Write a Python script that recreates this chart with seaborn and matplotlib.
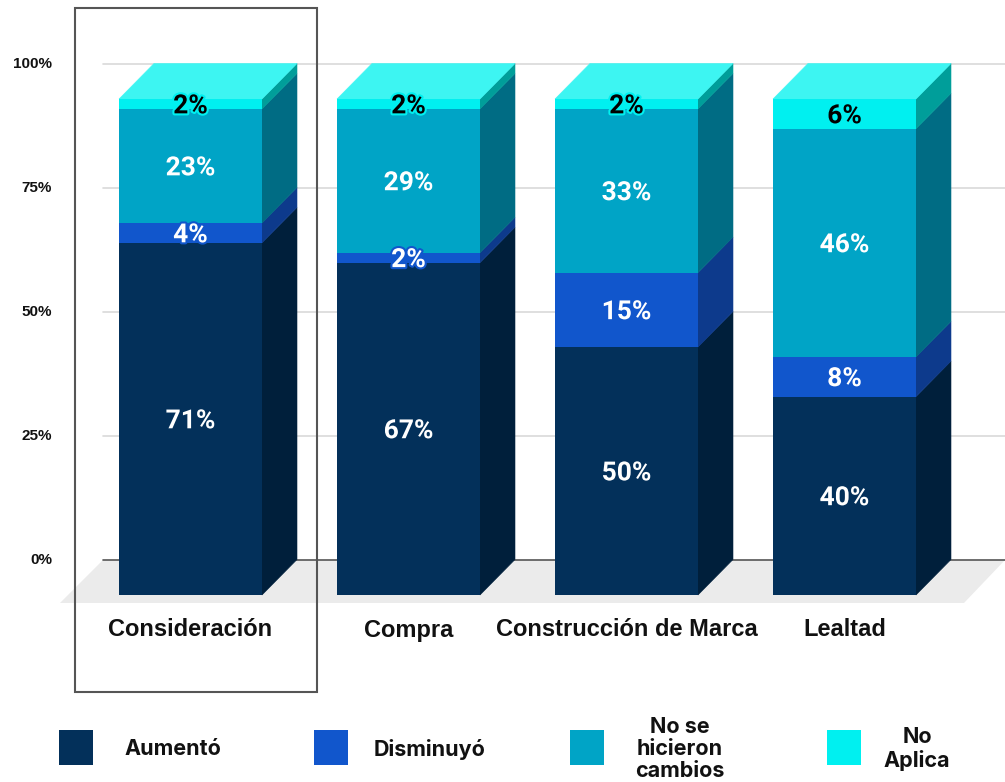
import matplotlib
matplotlib.use('Agg')
import matplotlib.pyplot as plt
import matplotlib.patheffects as pe
from matplotlib.patches import Rectangle
import numpy as np
import pandas as pd
import seaborn as sns

categories = ['Consideración', 'Compra', 'Construcción de Marca', 'Lealtad']
series_names = ['Aumentó', 'Disminuyó', 'No se\nhicieron\ncambios', 'No\nAplica']
aumento = [71, 67, 50, 40]
disminuyo = [4, 2, 15, 8]
sin_cambios = [23, 29, 33, 46]
no_aplica = [2, 2, 2, 6]
y_ticks = [0, 25, 50, 75, 100]
y_tick_labels = ['0%', '25%', '50%', '75%', '100%']

front_colors = ['#03305a', '#1156cc', '#00a4c6', '#00f0f0']
side_colors = ['#001f3b', '#0d3a8c', '#006c84', '#009e9a']
top_color = '#3df5f2'
label_colors = ['white', 'white', 'white', 'black']

# reference pixel geometry -> data units
PX_X, PX_Y = 218.0, 4.96      # px per category, px per percent
X0, Y0 = 190.5, 595.0          # px of category 0 centre / 0% on the front plane
BAR_W = 143 / PX_X
DX, DY = 35 / PX_X, 35.5 / PX_Y  # 3d depth offset
VAL_FS = 19
# half the cap height of the value labels, in percent units (to centre digits)
CAP_HALF = VAL_FS * 100 / 72 * 0.711 / 2 / PX_Y


def px_x(px):
    return (px - X0) / PX_X


def px_y(py):
    return (Y0 - py) / PX_Y


sns.set_style('white')
fig = plt.figure(figsize=(10.05, 7.82), dpi=100)
ax = fig.add_axes([0, 0, 1, 1])

series = [aumento, disminuyo, sin_cambios, no_aplica]
cum = np.cumsum(np.array(series), axis=0)
bottoms = np.vstack([np.zeros(len(categories)), cum[:-1]])

# floor
ax.fill([px_x(60), px_x(964), px_x(1005), px_x(103)],
        [px_y(603), px_y(603), px_y(560), px_y(560)], color='#ebebeb', lw=0, zorder=0)

# gridlines on the back plane
for v, lab in zip(y_ticks, y_tick_labels):
    ax.plot([px_x(103), px_x(1005)], [v + DY, v + DY],
            color='#555555' if v == 0 else '#d9d9d9', lw=1.2, zorder=1)
    ax.text(px_x(52), v + DY, lab, ha='right', va='center',
            fontsize=11, fontweight='bold', family='Liberation Sans', color='#111111')

# front faces: stacked by overlaying cumulative totals, largest first
df = pd.DataFrame({'cat': categories})
for j in range(len(series) - 1, -1, -1):
    df['val'] = cum[j]
    sns.barplot(data=df, x='cat', y='val', color=front_colors[j], saturation=1,
                width=BAR_W, errorbar=None, ax=ax, zorder=3, edgecolor='none', linewidth=0)

# side and top faces
for i in range(len(categories)):
    xl, xr = i - BAR_W / 2, i + BAR_W / 2
    for j in range(len(series)):
        y0, y1 = bottoms[j][i], cum[j][i]
        ax.fill([xr, xr + DX, xr + DX, xr], [y0, y0 + DY, y1 + DY, y1],
                color=side_colors[j], lw=0.4, ec=side_colors[j], zorder=2.9)
    top = cum[-1][i]
    ax.fill([xl, xl + DX, xr + DX, xr], [top, top + DY, top + DY, top],
            color=top_color, lw=0.4, ec=top_color, zorder=2.9)

# value labels
for i in range(len(categories)):
    for j in range(len(series)):
        y0, y1 = bottoms[j][i], cum[j][i]
        ax.text(i, (y0 + y1) / 2 - CAP_HALF, f'{series[j][i]}%', ha='center', va='baseline',
                fontsize=VAL_FS, fontweight='bold', family='Roboto', color=label_colors[j], zorder=5,
                path_effects=[pe.withStroke(linewidth=3, foreground=front_colors[j])])

# category labels
for i, cat in enumerate(categories):
    ax.text(i, px_y(630), cat, ha='center', va='center', fontsize=17,
            fontweight='bold', family='Liberation Sans', color='#111111')

ax.set_xlim(px_x(0), px_x(1005))
ax.set_ylim(px_y(782), px_y(0))
ax.axis('off')

# highlight box around first category
fig.add_artist(Rectangle((75 / 1005, 1 - 692 / 782), 242 / 1005, 684 / 782,
                         transform=fig.transFigure, fill=False, ec='#555555', lw=1.5))

# legend
leg_x = [59, 314, 570, 827]
leg_text_x = [173, 430, 680, 917]
for k in range(len(series_names)):
    fig.add_artist(Rectangle((leg_x[k] / 1005, 1 - 765 / 782), 34 / 1005, 35 / 782,
                             transform=fig.transFigure, color=front_colors[k], lw=0))
    fig.text(leg_text_x[k] / 1005, 1 - 749 / 782, series_names[k], ha='center', va='center',
             multialignment='center', fontsize=15.5, fontweight='bold', family='Inter',
             color='#111111', linespacing=1.12)

fig.savefig('out.png', dpi=100)
